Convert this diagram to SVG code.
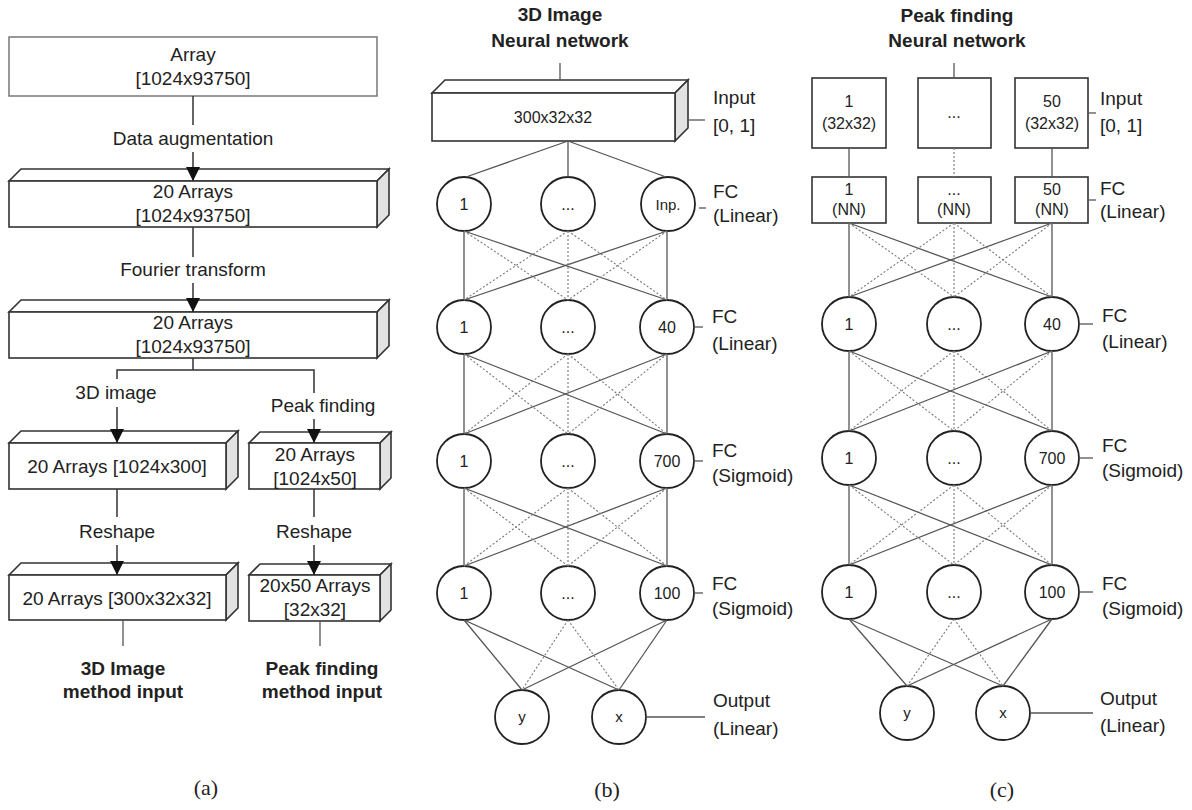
<svg xmlns="http://www.w3.org/2000/svg" width="1192" height="810" viewBox="0 0 1192 810">
<style>
.t{font-family:"Liberation Sans",Arial,sans-serif;font-size:19px;fill:#222;text-anchor:middle}
.l{text-anchor:start}
.b{font-weight:bold}
.n{font-size:16px}
.sm{font-size:15px}
.cap{font-family:"Liberation Serif","DejaVu Serif",serif;font-size:22px;fill:#222;text-anchor:middle}
.box{fill:#fff;stroke:#333;stroke-width:1.6}
.box1{fill:#fff;stroke:#777;stroke-width:1.5}
.side{fill:#e2e2e2;stroke:#333;stroke-width:1.6}
.c{fill:#fff;stroke:#222;stroke-width:1.8}
.s{stroke:#555;stroke-width:1.3;fill:none}
.d{stroke:#777;stroke-width:1.1;stroke-dasharray:2 2;fill:none}
.k{stroke:#333;stroke-width:1.5;fill:none}
</style>
<defs>
<marker id="arr" viewBox="0 0 14 14" refX="14" refY="7" markerWidth="14" markerHeight="14" markerUnits="userSpaceOnUse" orient="auto">
<path d="M0,0 L14,7 L0,14 z" fill="#111"/>
</marker>
</defs>
<rect width="1192" height="810" fill="#fff"/>

<!-- Panel (a) nodes -->
<g id="a-array">
<rect class="box1" x="9" y="37" width="368" height="59"/>
<text class="t" x="193" y="61">Array</text>
<text class="t" x="193" y="85">[1024x93750]</text>
</g>
<g id="a-aug">
<polygon class="box" points="9,181 21,169 389,169 377,181"/>
<polygon class="side" points="377,181 389,169 389,215 377,227"/>
<rect class="box" x="9" y="181" width="368" height="46"/>
<text class="t" x="193" y="198">20 Arrays</text>
<text class="t" x="193" y="222">[1024x93750]</text>
</g>
<g id="a-fourier">
<polygon class="box" points="9,312 21,300 389,300 377,312"/>
<polygon class="side" points="377,312 389,300 389,346 377,358"/>
<rect class="box" x="9" y="312" width="368" height="46"/>
<text class="t" x="193" y="329">20 Arrays</text>
<text class="t" x="193" y="353">[1024x93750]</text>
</g>
<g id="a-3d1">
<polygon class="box" points="9,443 21,431 238,431 226,443"/>
<polygon class="side" points="226,443 238,431 238,477 226,489"/>
<rect class="box" x="9" y="443" width="217" height="46"/>
<text class="t" x="117" y="473">20 Arrays [1024x300]</text>
</g>
<g id="a-pk1">
<polygon class="box" points="249,443 260,432 391,432 380,443"/>
<polygon class="side" points="380,443 391,432 391,478 380,489"/>
<rect class="box" x="249" y="443" width="131" height="46"/>
<text class="t" x="315" y="461">20 Arrays</text>
<text class="t" x="315" y="485">[1024x50]</text>
</g>
<g id="a-3d2">
<polygon class="box" points="9,575 21,563 238,563 226,575"/>
<polygon class="side" points="226,575 238,563 238,608 226,620"/>
<rect class="box" x="9" y="575" width="217" height="45"/>
<text class="t" x="117" y="605">20 Arrays [300x32x32]</text>
</g>
<g id="a-pk2">
<polygon class="box" points="249,575 260,564 391,564 380,575"/>
<polygon class="side" points="380,575 391,564 391,610 380,621"/>
<rect class="box" x="249" y="575" width="131" height="46"/>
<text class="t" x="315" y="592">20x50 Arrays</text>
<text class="t" x="315" y="616">[32x32]</text>
</g>
<g id="a-out1">
<text class="t b" x="123" y="675">3D Image</text>
<text class="t b" x="123" y="698">method input</text>
</g>
<g id="a-out2">
<text class="t b" x="322" y="675">Peak finding</text>
<text class="t b" x="322" y="698">method input</text>
</g>
<text class="cap" x="206" y="795">(a)</text>

<!-- Panel (b) nodes -->
<g id="b-title">
<text class="t b" x="560" y="21">3D Image</text>
<text class="t b" x="560" y="47">Neural network</text>
</g>
<g id="b-input">
<polygon class="box" points="432,93 445,80 688,80 675,93"/>
<polygon class="side" points="675,93 688,80 688,128 675,141"/>
<rect class="box" x="432" y="93" width="243" height="48"/>
<text class="t n" x="553" y="123">300x32x32</text>
<text class="t l" x="713" y="104">Input</text>
<text class="t l" x="713" y="132">[0, 1]</text>
</g>
<g id="b-l1">
<circle class="c" cx="464" cy="204" r="27"/><text class="t n" x="464" y="210">1</text>
<circle class="c" cx="568" cy="204" r="27"/><text class="t n" x="568" y="210">...</text>
<circle class="c" cx="668" cy="204" r="27"/><text class="t sm" x="668" y="210">Inp.</text>
<text class="t l" x="713" y="198">FC</text>
<text class="t l" x="713" y="222">(Linear)</text>
</g>
<g id="b-l2">
<circle class="c" cx="464" cy="327" r="27"/><text class="t n" x="464" y="333">1</text>
<circle class="c" cx="568" cy="327" r="27"/><text class="t n" x="568" y="333">...</text>
<circle class="c" cx="667" cy="327" r="27"/><text class="t n" x="667" y="333">40</text>
<text class="t l" x="712" y="323">FC</text>
<text class="t l" x="712" y="350">(Linear)</text>
</g>
<g id="b-l3">
<circle class="c" cx="464" cy="461" r="27"/><text class="t n" x="464" y="467">1</text>
<circle class="c" cx="568" cy="461" r="27"/><text class="t n" x="568" y="467">...</text>
<circle class="c" cx="667" cy="461" r="27"/><text class="t n" x="667" y="467">700</text>
<text class="t l" x="712" y="457">FC</text>
<text class="t l" x="712" y="482">(Sigmoid)</text>
</g>
<g id="b-l4">
<circle class="c" cx="464" cy="593" r="27"/><text class="t n" x="464" y="599">1</text>
<circle class="c" cx="568" cy="593" r="27"/><text class="t n" x="568" y="599">...</text>
<circle class="c" cx="667" cy="593" r="27"/><text class="t n" x="667" y="599">100</text>
<text class="t l" x="712" y="590">FC</text>
<text class="t l" x="712" y="615">(Sigmoid)</text>
</g>
<g id="b-out">
<circle class="c" cx="522" cy="717" r="27"/><text class="t sm" x="522" y="722">y</text>
<circle class="c" cx="619" cy="717" r="27"/><text class="t sm" x="619" y="722">x</text>
<text class="t l" x="713" y="707">Output</text>
<text class="t l" x="713" y="735">(Linear)</text>
</g>
<text class="cap" x="607" y="797">(b)</text>

<!-- Panel (c) nodes -->
<g id="c-title">
<text class="t b" x="957" y="22">Peak finding</text>
<text class="t b" x="957" y="47">Neural network</text>
</g>
<g id="c-input">
<rect class="box" x="812" y="78" width="74" height="70"/>
<text class="t n" x="849" y="107">1</text><text class="t n" x="849" y="129">(32x32)</text>
<rect class="box" x="918" y="78" width="73" height="70"/>
<text class="t n" x="954" y="118">...</text>
<rect class="box" x="1015" y="78" width="73" height="70"/>
<text class="t n" x="1052" y="107">50</text><text class="t n" x="1052" y="129">(32x32)</text>
<text class="t l" x="1100" y="105">Input</text>
<text class="t l" x="1100" y="132">[0, 1]</text>
</g>
<g id="c-l1">
<rect class="box" x="812" y="177" width="74" height="46"/>
<text class="t n" x="849" y="195">1</text><text class="t n" x="849" y="215">(NN)</text>
<rect class="box" x="918" y="177" width="73" height="46"/>
<text class="t n" x="954" y="195">...</text><text class="t n" x="954" y="215">(NN)</text>
<rect class="box" x="1015" y="177" width="73" height="46"/>
<text class="t n" x="1052" y="195">50</text><text class="t n" x="1052" y="215">(NN)</text>
<text class="t l" x="1100" y="195">FC</text>
<text class="t l" x="1100" y="218">(Linear)</text>
</g>
<g id="c-l2">
<circle class="c" cx="849" cy="324" r="27"/><text class="t n" x="849" y="330">1</text>
<circle class="c" cx="954" cy="324" r="27"/><text class="t n" x="954" y="330">...</text>
<circle class="c" cx="1052" cy="324" r="27"/><text class="t n" x="1052" y="330">40</text>
<text class="t l" x="1102" y="322">FC</text>
<text class="t l" x="1102" y="348">(Linear)</text>
</g>
<g id="c-l3">
<circle class="c" cx="849" cy="458" r="27"/><text class="t n" x="849" y="464">1</text>
<circle class="c" cx="954" cy="458" r="27"/><text class="t n" x="954" y="464">...</text>
<circle class="c" cx="1052" cy="458" r="27"/><text class="t n" x="1052" y="464">700</text>
<text class="t l" x="1102" y="452">FC</text>
<text class="t l" x="1102" y="477">(Sigmoid)</text>
</g>
<g id="c-l4">
<circle class="c" cx="849" cy="592" r="27"/><text class="t n" x="849" y="598">1</text>
<circle class="c" cx="954" cy="592" r="27"/><text class="t n" x="954" y="598">...</text>
<circle class="c" cx="1052" cy="592" r="27"/><text class="t n" x="1052" y="598">100</text>
<text class="t l" x="1102" y="590">FC</text>
<text class="t l" x="1102" y="615">(Sigmoid)</text>
</g>
<g id="c-out">
<circle class="c" cx="907" cy="713" r="27"/><text class="t sm" x="907" y="718">y</text>
<circle class="c" cx="1003" cy="713" r="27"/><text class="t sm" x="1003" y="718">x</text>
<text class="t l" x="1100" y="705">Output</text>
<text class="t l" x="1100" y="732">(Linear)</text>
</g>
<text class="cap" x="1002" y="797">(c)</text>

<!-- Connectors -->
<g id="connectors">
<!-- panel a -->
<line class="k" x1="193" y1="96" x2="193" y2="125"/>
<text class="t" x="193" y="145">Data augmentation</text>
<line class="k" x1="193" y1="152" x2="193" y2="181" marker-end="url(#arr)"/>
<line class="k" x1="193" y1="227" x2="193" y2="257"/>
<text class="t" x="193" y="276">Fourier transform</text>
<line class="k" x1="193" y1="283" x2="193" y2="312" marker-end="url(#arr)"/>
<polyline class="k" points="193,358 193,370"/>
<polyline class="k" points="117,379 117,370 314,370 314,393"/>
<text class="t" x="116" y="399">3D image</text>
<line class="k" x1="117" y1="407" x2="117" y2="443" marker-end="url(#arr)"/>
<text class="t" x="323" y="412">Peak finding</text>
<line class="k" x1="314" y1="419" x2="314" y2="443" marker-end="url(#arr)"/>
<line class="k" x1="117" y1="489" x2="117" y2="517"/>
<text class="t" x="117" y="538">Reshape</text>
<line class="k" x1="117" y1="545" x2="117" y2="575" marker-end="url(#arr)"/>
<line class="k" x1="314" y1="489" x2="314" y2="517"/>
<text class="t" x="314" y="538">Reshape</text>
<line class="k" x1="314" y1="545" x2="314" y2="575" marker-end="url(#arr)"/>
<line class="s" x1="123" y1="620" x2="123" y2="646"/>
<line class="s" x1="320" y1="621" x2="320" y2="646"/>

<!-- panel b -->
<line class="s" x1="560" y1="63" x2="560" y2="80"/>
<line class="s" x1="688" y1="120" x2="705" y2="120"/>
<line class="s" x1="568" y1="141" x2="466" y2="177"/>
<line class="s" x1="568" y1="141" x2="568" y2="177"/>
<line class="s" x1="568" y1="141" x2="666" y2="177"/>
<line class="s" x1="699" y1="208" x2="706" y2="208"/>
<line class="s" x1="694" y1="327" x2="703" y2="327"/>
<line class="s" x1="694" y1="461" x2="703" y2="461"/>
<line class="s" x1="694" y1="593" x2="703" y2="593"/>
<line class="s" x1="646" y1="717" x2="705" y2="717"/>
<!-- b row1-row2 -->
<line class="s" x1="464" y1="231" x2="464" y2="300"/>
<line class="s" x1="464" y1="231" x2="667" y2="300"/>
<line class="s" x1="667" y1="231" x2="464" y2="300"/>
<line class="s" x1="667" y1="231" x2="667" y2="300"/>
<line class="d" x1="464" y1="231" x2="568" y2="300"/>
<line class="d" x1="568" y1="231" x2="464" y2="300"/>
<line class="d" x1="568" y1="231" x2="568" y2="300"/>
<line class="d" x1="568" y1="231" x2="667" y2="300"/>
<line class="d" x1="667" y1="231" x2="568" y2="300"/>
<!-- b row2-row3 -->
<line class="s" x1="464" y1="354" x2="464" y2="434"/>
<line class="s" x1="464" y1="354" x2="667" y2="434"/>
<line class="s" x1="667" y1="354" x2="464" y2="434"/>
<line class="s" x1="667" y1="354" x2="667" y2="434"/>
<line class="d" x1="464" y1="354" x2="568" y2="434"/>
<line class="d" x1="568" y1="354" x2="464" y2="434"/>
<line class="d" x1="568" y1="354" x2="568" y2="434"/>
<line class="d" x1="568" y1="354" x2="667" y2="434"/>
<line class="d" x1="667" y1="354" x2="568" y2="434"/>
<!-- b row3-row4 -->
<line class="s" x1="464" y1="488" x2="464" y2="566"/>
<line class="s" x1="464" y1="488" x2="667" y2="566"/>
<line class="s" x1="667" y1="488" x2="464" y2="566"/>
<line class="s" x1="667" y1="488" x2="667" y2="566"/>
<line class="d" x1="464" y1="488" x2="568" y2="566"/>
<line class="d" x1="568" y1="488" x2="464" y2="566"/>
<line class="d" x1="568" y1="488" x2="568" y2="566"/>
<line class="d" x1="568" y1="488" x2="667" y2="566"/>
<line class="d" x1="667" y1="488" x2="568" y2="566"/>
<!-- b row4-out -->
<line class="s" x1="464" y1="620" x2="522" y2="690"/>
<line class="s" x1="464" y1="620" x2="619" y2="690"/>
<line class="s" x1="667" y1="620" x2="522" y2="690"/>
<line class="s" x1="667" y1="620" x2="619" y2="690"/>
<line class="d" x1="568" y1="620" x2="522" y2="690"/>
<line class="d" x1="568" y1="620" x2="619" y2="690"/>

<!-- panel c -->
<line class="s" x1="954" y1="63" x2="954" y2="78"/>
<line class="s" x1="1088" y1="113" x2="1096" y2="113"/>
<line class="s" x1="1088" y1="200" x2="1096" y2="200"/>
<line class="s" x1="849" y1="148" x2="849" y2="177"/>
<line class="d" x1="954" y1="148" x2="954" y2="177"/>
<line class="s" x1="1052" y1="148" x2="1052" y2="177"/>
<line class="s" x1="1079" y1="324" x2="1093" y2="324"/>
<line class="s" x1="1079" y1="458" x2="1093" y2="458"/>
<line class="s" x1="1079" y1="592" x2="1093" y2="592"/>
<line class="s" x1="1030" y1="713" x2="1093" y2="713"/>
<!-- c row1-row2 -->
<line class="s" x1="849" y1="223" x2="849" y2="297"/>
<line class="s" x1="849" y1="223" x2="1052" y2="297"/>
<line class="s" x1="1052" y1="223" x2="849" y2="297"/>
<line class="s" x1="1052" y1="223" x2="1052" y2="297"/>
<line class="d" x1="849" y1="223" x2="954" y2="297"/>
<line class="d" x1="954" y1="223" x2="849" y2="297"/>
<line class="d" x1="954" y1="223" x2="954" y2="297"/>
<line class="d" x1="954" y1="223" x2="1052" y2="297"/>
<line class="d" x1="1052" y1="223" x2="954" y2="297"/>
<!-- c row2-row3 -->
<line class="s" x1="849" y1="351" x2="849" y2="431"/>
<line class="s" x1="849" y1="351" x2="1052" y2="431"/>
<line class="s" x1="1052" y1="351" x2="849" y2="431"/>
<line class="s" x1="1052" y1="351" x2="1052" y2="431"/>
<line class="d" x1="849" y1="351" x2="954" y2="431"/>
<line class="d" x1="954" y1="351" x2="849" y2="431"/>
<line class="d" x1="954" y1="351" x2="954" y2="431"/>
<line class="d" x1="954" y1="351" x2="1052" y2="431"/>
<line class="d" x1="1052" y1="351" x2="954" y2="431"/>
<!-- c row3-row4 -->
<line class="s" x1="849" y1="485" x2="849" y2="565"/>
<line class="s" x1="849" y1="485" x2="1052" y2="565"/>
<line class="s" x1="1052" y1="485" x2="849" y2="565"/>
<line class="s" x1="1052" y1="485" x2="1052" y2="565"/>
<line class="d" x1="849" y1="485" x2="954" y2="565"/>
<line class="d" x1="954" y1="485" x2="849" y2="565"/>
<line class="d" x1="954" y1="485" x2="954" y2="565"/>
<line class="d" x1="954" y1="485" x2="1052" y2="565"/>
<line class="d" x1="1052" y1="485" x2="954" y2="565"/>
<!-- c row4-out -->
<line class="s" x1="849" y1="619" x2="907" y2="686"/>
<line class="s" x1="849" y1="619" x2="1003" y2="686"/>
<line class="s" x1="1052" y1="619" x2="907" y2="686"/>
<line class="s" x1="1052" y1="619" x2="1003" y2="686"/>
<line class="d" x1="954" y1="619" x2="907" y2="686"/>
<line class="d" x1="954" y1="619" x2="1003" y2="686"/>
</g>
</svg>
